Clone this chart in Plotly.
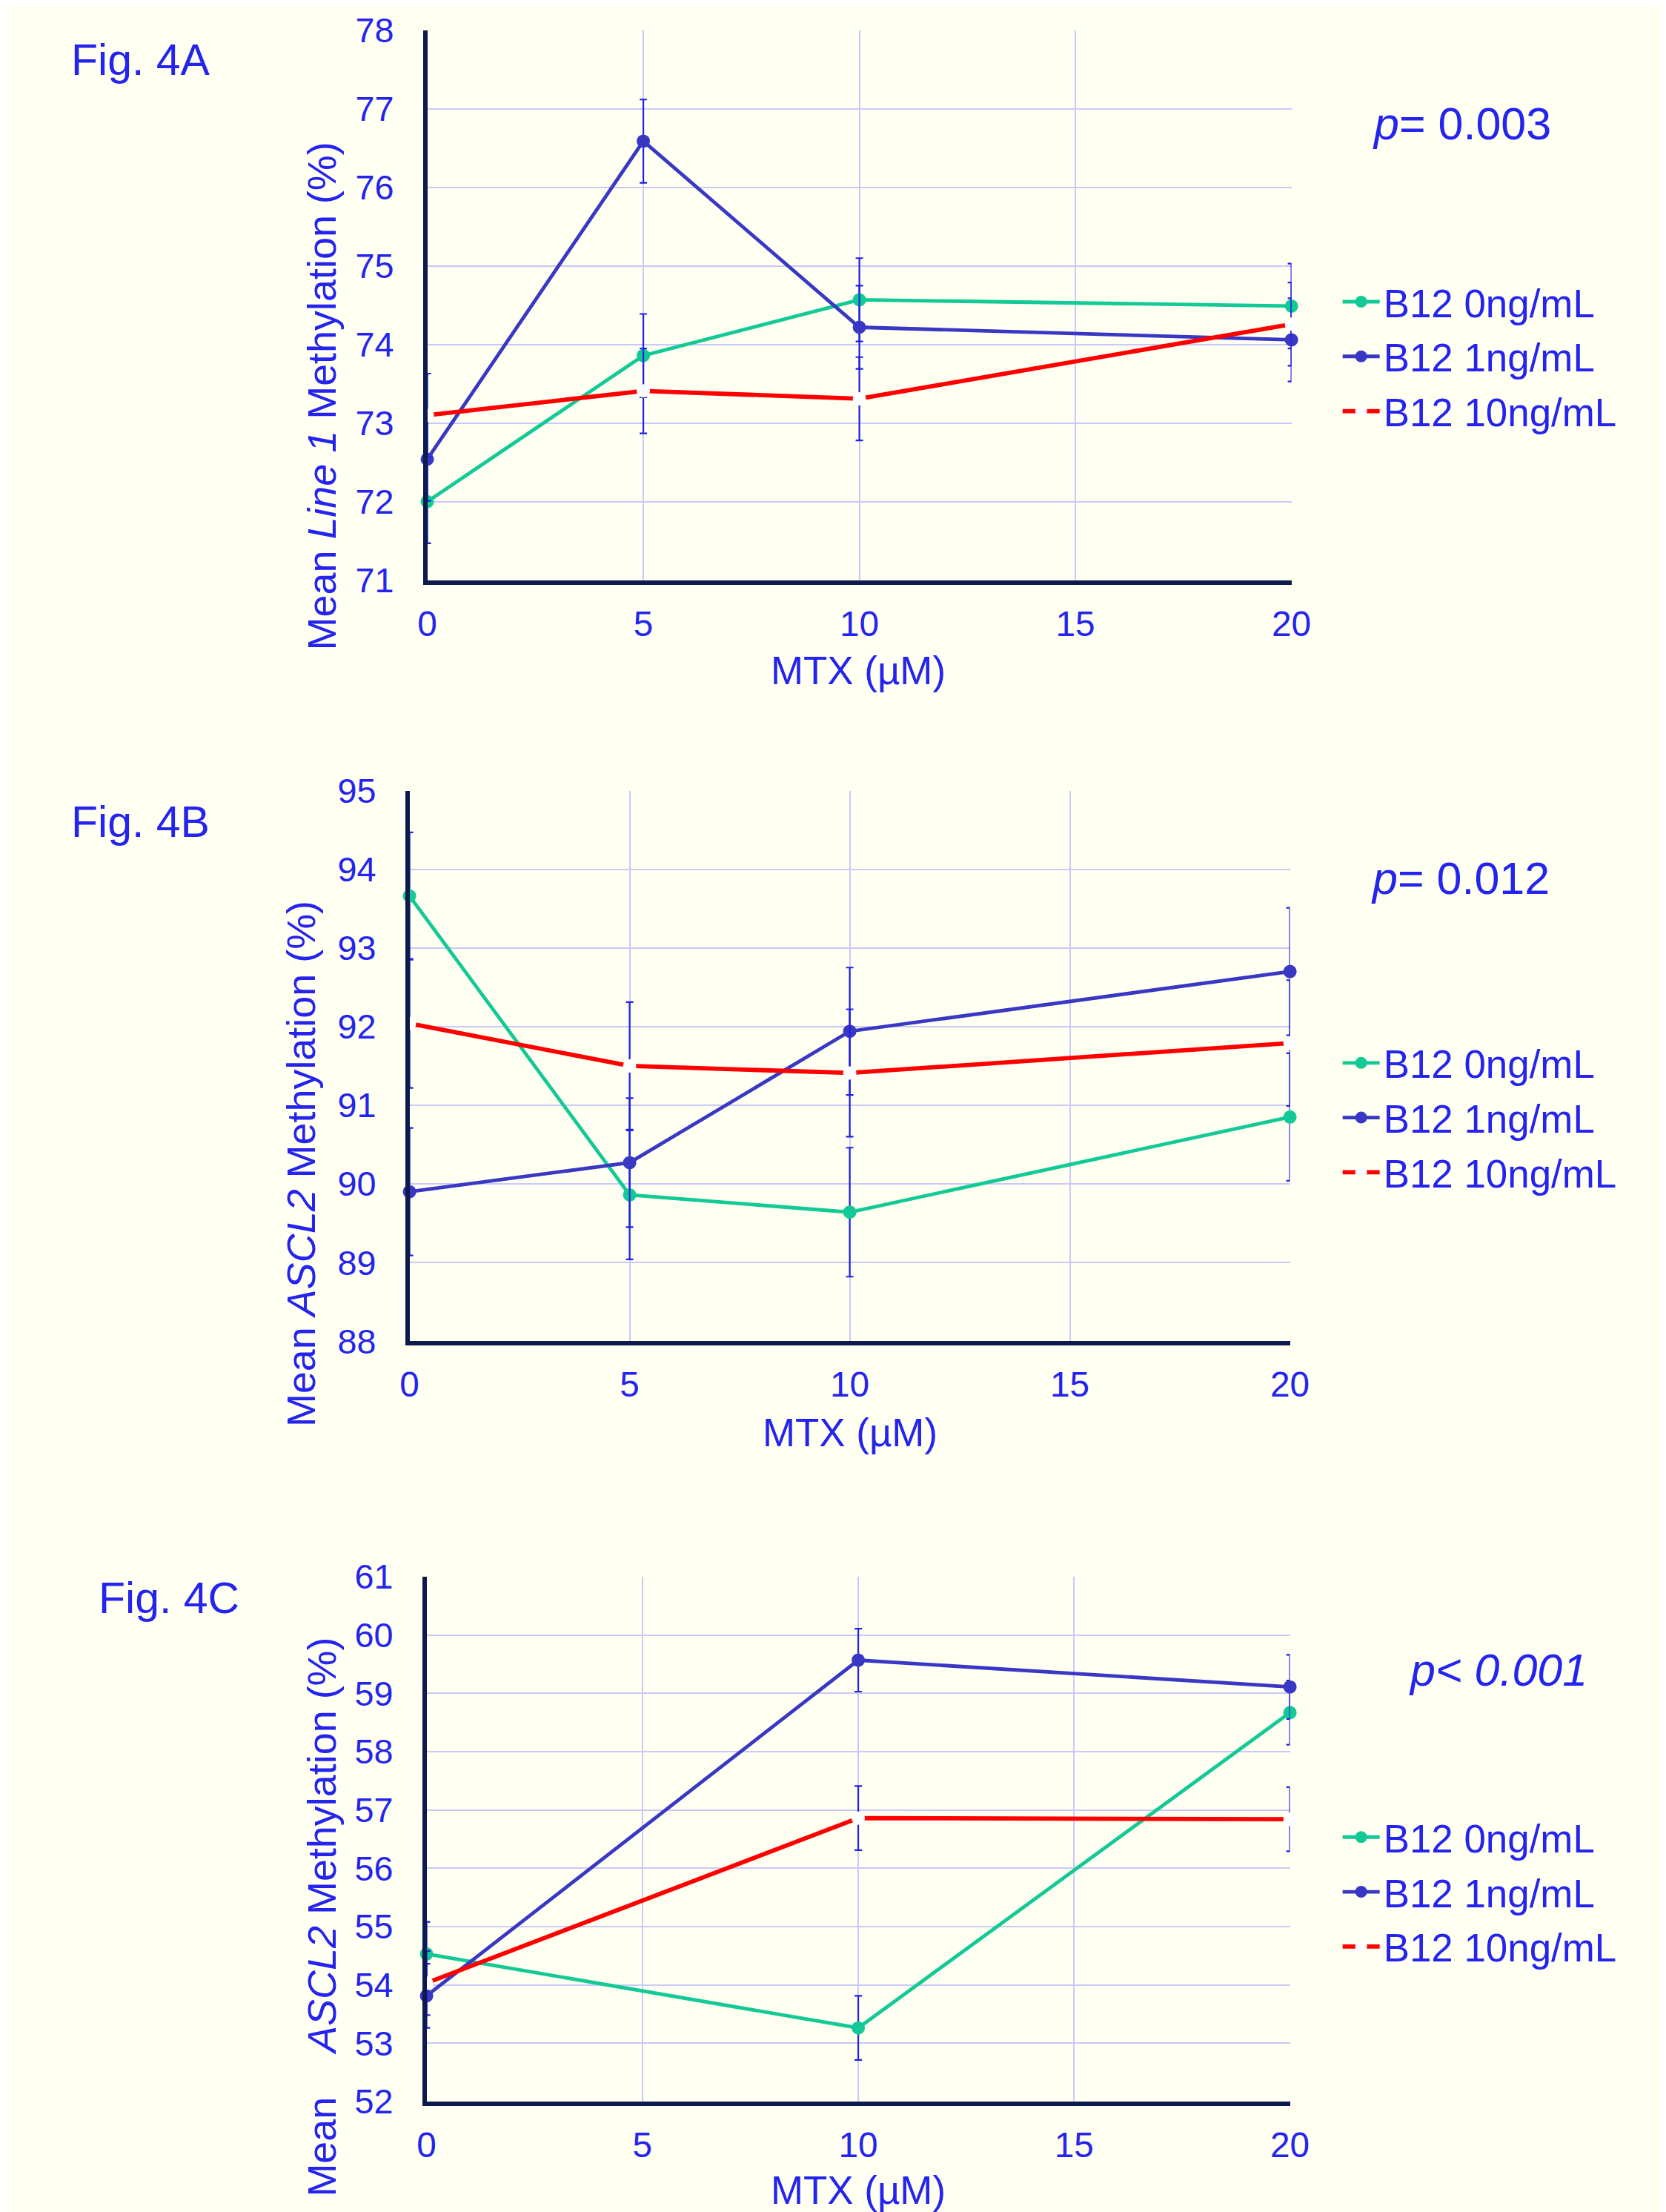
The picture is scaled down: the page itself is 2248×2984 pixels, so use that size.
import plotly.graph_objects as go

W, H = 2248, 2984

# ---------------- data ----------------
A_x = [0, 5, 10, 20]
A_b0 = [72.00, 73.86, 74.57, 74.49]
A_b1 = [72.54, 76.59, 74.22, 74.06]
A_b10 = [73.10, 73.41, 73.31, 74.26]
A_err0 = [0.53, 0.53, 0.53, 0.54]
A_err1 = [0.53, 0.53, 0.53, 0.53]
A_err10 = [0.53, 0.54, 0.53, 0.53]

B_x = [0, 5, 10, 20]
B_b0 = [93.66, 89.86, 89.64, 90.85]
B_b1 = [89.90, 90.27, 91.94, 92.70]
B_b10 = [92.04, 91.50, 91.41, 91.79]
B_err0 = [0.81, 0.82, 0.82, 0.81]
B_err1 = [0.81, 0.82, 0.81, 0.81]
B_err10 = [0.82, 0.81, 0.81, 0.80]

C_x = [0, 10, 20]
C_b0 = [54.53, 53.26, 58.67]
C_b1 = [53.81, 59.57, 59.11]
C_b10 = [54.03, 56.86, 56.84]
C_err0 = [0.55, 0.55, 0.55]
C_err1 = [0.55, 0.54, 0.55]
C_err10 = [0.55, 0.55, 0.55]

series_names = ["B12 0ng/mL", "B12 1ng/mL", "B12 10ng/mL"]
x_ticks = [0, 5, 10, 15, 20]
A_yticks = list(range(71, 79))
B_yticks = list(range(88, 96))
C_yticks = list(range(52, 62))

# ---------------- styles ----------------
BG = "#FFFFF2"
TXT = "#2424EE"
GREEN = "#13C996"
BLUE = "#3838C4"
RED = "#FF0000"
NAVY = "#0C1A4E"
GRID = "#C9C9FA"
ERR = "#2020E6"
FONT = "Arial, Liberation Sans, sans-serif"

# compensation for how the page is photographed
S = 0.983
OX, OY = 19, 33


def px(x):
    return ((x - OX) / S) / W


def py(y):
    return 1 - ((y - OY) / S) / H


def fs(s):
    return s / S


# panel pixel boxes (target picture coords): (left, right, top, bottom)
boxes = {
    "A": (575, 1742, 40, 782),
    "B": (551, 1740, 1066, 1809),
    "C": (574, 1740, 2127, 2835),
}

fig = go.Figure()

panels = [
    ("A", "x", "y", "legend", A_x, [A_b0, A_b1, A_b10], [A_err0, A_err1, A_err10]),
    ("B", "x2", "y2", "legend2", B_x, [B_b0, B_b1, B_b10], [B_err0, B_err1, B_err10]),
    ("C", "x3", "y3", "legend3", C_x, [C_b0, C_b1, C_b10], [C_err0, C_err1, C_err10]),
]

colors = [GREEN, BLUE, RED]
mfill = [GREEN, BLUE, "#FFFFFF"]
lwidth = [4.8, 4.8, 5.8]

for key, xa, ya, lg, xs, ys_list, errs in panels:
    for i in range(3):
        fig.add_trace(go.Scatter(
            x=xs, y=ys_list[i], mode="lines+markers", name=series_names[i],
            xaxis=xa, yaxis=ya, legend=lg, legendgroup=key + str(i),
            line=dict(color=colors[i], width=lwidth[i]),
            marker=dict(size=18, color=mfill[i], line=dict(width=0)),
            error_y=dict(type="data", array=errs[i], visible=True,
                         color=ERR, thickness=2.2, width=5),
            cliponaxis=False,
        ))

layout = dict(
    width=W, height=H, autosize=False,
    margin=dict(l=0, r=0, t=0, b=0),
    paper_bgcolor=BG, plot_bgcolor=BG,
    font=dict(family=FONT, color=TXT, size=46),
    showlegend=True,
)

axis_names = {"A": ("xaxis", "yaxis", "y", "x"), "B": ("xaxis2", "yaxis2", "y2", "x2"),
              "C": ("xaxis3", "yaxis3", "y3", "x3")}
yranges = {"A": ([71, 78], A_yticks), "B": ([88, 95], B_yticks), "C": ([52, 61], C_yticks)}

for key, (xk, yk, anchor_y, anchor_x) in axis_names.items():
    l, r, t, b = boxes[key]
    yr, yt = yranges[key]
    layout[xk] = dict(
        domain=[px(l), px(r)], anchor=anchor_y, range=[0, 20],
        tickvals=x_ticks, ticktext=[str(v) for v in x_ticks],
        showgrid=True, gridcolor=GRID, gridwidth=2,
        showline=True, linecolor=NAVY, linewidth=5.5,
        zeroline=False, ticks="", ticklabelstandoff=12,
        tickfont=dict(size=fs(47), color=TXT, family=FONT),
    )
    layout[yk] = dict(
        domain=[py(b), py(t)], anchor=anchor_x, range=yr,
        tickvals=yt, ticktext=[str(v) for v in yt],
        showgrid=True, gridcolor=GRID, gridwidth=2,
        showline=True, linecolor=NAVY, linewidth=5.5,
        zeroline=False, ticks="", ticklabelstandoff=30,
        tickfont=dict(size=fs(46), color=TXT, family=FONT),
    )

legend_top = {"legend": 338, "legend2": 1383, "legend3": 2446}
for lg, ytop in legend_top.items():
    layout[lg] = dict(
        x=1818 / W, y=1 - ytop / H, xanchor="left", yanchor="top",
        bgcolor="rgba(0,0,0,0)", borderwidth=0,
        font=dict(size=fs(52), color=TXT, family=FONT),
        itemwidth=50, tracegroupgap=2,
    )

fig.update_layout(**layout)

annotations = []
# figure labels
for txt, cx, cy in [("Fig. 4A", 188, 80), ("Fig. 4B", 188, 1108), ("Fig. 4C", 226, 2156)]:
    annotations.append(dict(text=txt, x=px(cx), y=py(cy), xref="paper", yref="paper",
                            xanchor="center", yanchor="middle", showarrow=False,
                            font=dict(size=fs(58), color=TXT, family=FONT)))
# p values
for txt, cx, cy in [("<i>p</i>= 0.003", 1972, 166), ("<i>p</i>= 0.012", 1970, 1184),
                    ("<i>p< 0.001</i>", 2021, 2253)]:
    annotations.append(dict(text=txt, x=px(cx), y=py(cy), xref="paper", yref="paper",
                            xanchor="center", yanchor="middle", showarrow=False,
                            font=dict(size=fs(60), color=TXT, family=FONT)))
# x titles
for cx, cy in [(1157, 904), (1146, 1932), (1157, 2955)]:
    annotations.append(dict(text="MTX (µM)", x=px(cx), y=py(cy), xref="paper", yref="paper",
                            xanchor="center", yanchor="middle", showarrow=False,
                            font=dict(size=fs(52), color=TXT, family=FONT)))
# y titles
for txt, cx, cy in [("Mean <i>Line 1</i> Methylation (%)", 432, 534),
                    ("Mean <i>ASCL2</i> Methylation (%)", 405, 1570),
                    ("Mean&nbsp;&nbsp;&nbsp; <i>ASCL2</i> Methylation (%)", 432, 2586)]:
    annotations.append(dict(text=txt, x=px(cx), y=py(cy), xref="paper", yref="paper",
                            xanchor="center", yanchor="middle", showarrow=False, textangle=-90,
                            font=dict(size=fs(53), color=TXT, family=FONT)))

fig.update_layout(annotations=annotations)

fig.write_html("out.html")
